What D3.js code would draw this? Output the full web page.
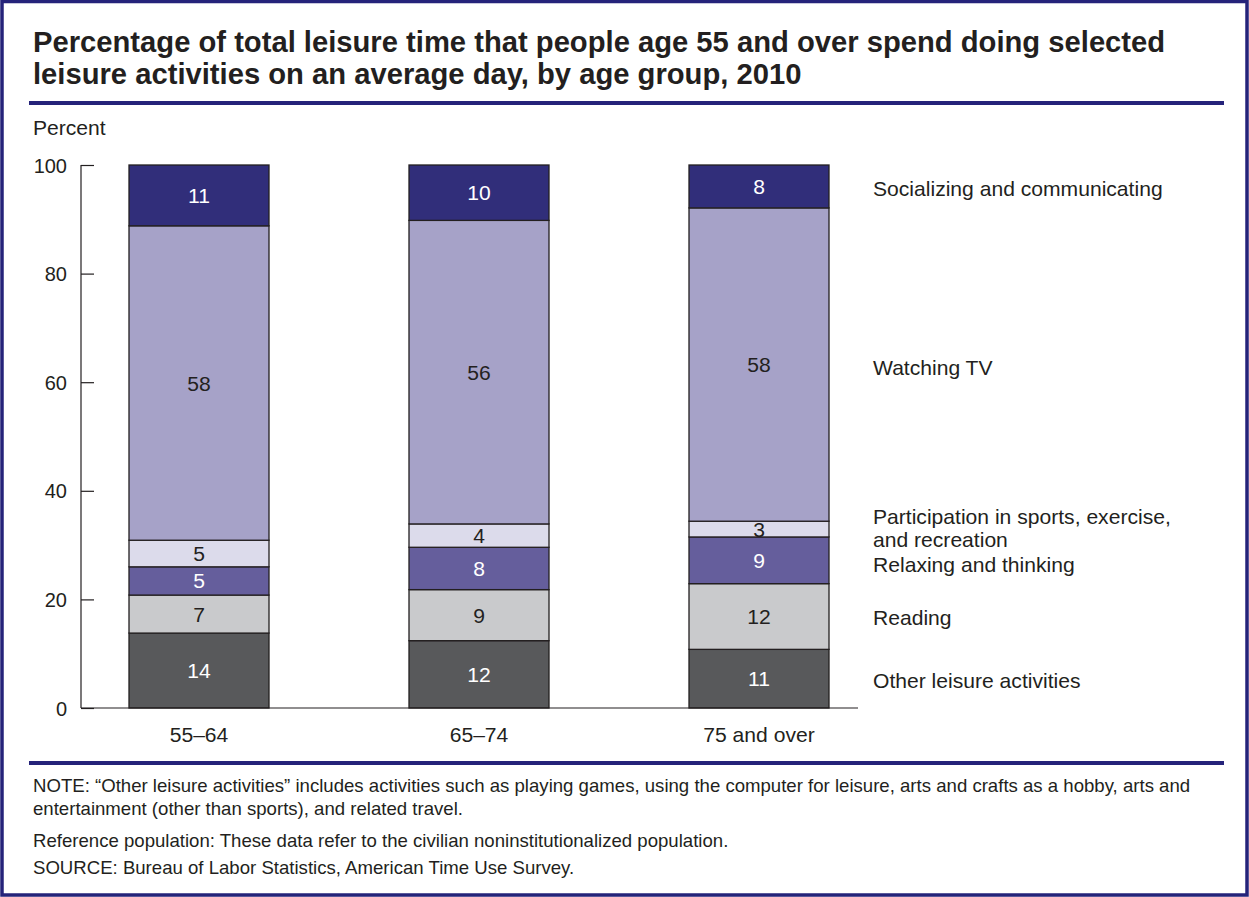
<!DOCTYPE html>
<html>
<head>
<meta charset="utf-8">
<script src="https://cdn.jsdelivr.net/npm/d3@7"></script>
<style>
  html, body { margin: 0; padding: 0; background: #fff; }
  svg { display: block; font-family: "Liberation Sans", Arial, sans-serif; }
</style>
</head>
<body>
<svg id="chart" width="1249" height="897"></svg>
<script>
// Age groups along the x axis
const ageGroups = ["55–64", "65–74", "75 and over"];

// Activities, stacked from the bottom of each bar upward
const activities = [
  "Other leisure activities",
  "Reading",
  "Relaxing and thinking",
  "Participation in sports, exercise, and recreation",
  "Watching TV",
  "Socializing and communicating"
];

// Share of leisure time (percent) for each activity, one entry per age group
const otherLeisure   = [13.8, 12.4, 10.8];
const reading        = [7.0,  9.4, 12.1];
const relaxing       = [5.2,  7.8,  8.6];
const sports         = [4.9,  4.3,  2.9];
const watchingTV     = [57.9, 55.9, 57.7];
const socializing    = [11.2, 10.2,  7.9];

const seriesValues = [otherLeisure, reading, relaxing, sports, watchingTV, socializing];

const yTicks = [0, 20, 40, 60, 80, 100];

// Fill, label colour and legend lines per activity
const fills      = ["#58595b", "#c9cacc", "#655e9c", "#dcdbeb", "#a6a2c8", "#312e7a"];
const labelInk   = ["#ffffff", "#231f20", "#ffffff", "#231f20", "#231f20", "#ffffff"];
const legendText = [
  ["Other leisure activities"],
  ["Reading"],
  ["Relaxing and thinking"],
  ["Participation in sports, exercise,", "and recreation"],
  ["Watching TV"],
  ["Socializing and communicating"]
];
// Legend baseline, expressed in percent on the value axis
const legendY = [3.7, 15.3, 25.0, 33.9, 61.3, 94.3];

const noteLines = [
  "NOTE: \u201cOther leisure activities\u201d includes activities such as playing games, using the computer for leisure, arts and crafts as a hobby, arts and",
  "entertainment (other than sports), and related travel."
];
const refLine = "Reference population: These data refer to the civilian noninstitutionalized population.";
const sourceLine = "SOURCE: Bureau of Labor Statistics, American Time Use Survey.";

const ink = "#231f20";
const navy = "#25237a";
const bodySize = 21.1;

const svg = d3.select("#chart");

// Outer frame
svg.append("rect")
  .attr("x", 2).attr("y", 1.5).attr("width", 1245).attr("height", 893.5)
  .attr("fill", "none").attr("stroke", navy).attr("stroke-width", 3.5);

// Title
const title = svg.append("text")
  .attr("x", 33).attr("fill", ink)
  .attr("font-size", 29.2).attr("font-weight", "bold");
title.append("tspan").attr("x", 33).attr("y", 52)
  .text("Percentage of total leisure time that people age 55 and over spend doing selected");
title.append("tspan").attr("x", 33).attr("y", 84)
  .text("leisure activities on an average day, by age group, 2010");

// Horizontal rules
svg.append("rect").attr("x", 29).attr("y", 101).attr("width", 1195).attr("height", 4).attr("fill", navy);
svg.append("rect").attr("x", 29).attr("y", 761).attr("width", 1195).attr("height", 4).attr("fill", navy);

// Unit label
svg.append("text").attr("x", 33).attr("y", 135).attr("font-size", bodySize).attr("fill", ink).text("Percent");

// Scales
const y = d3.scaleLinear().domain([0, 100]).range([708, 165]);
const x = d3.scaleBand().domain(ageGroups).range([59, 899]).paddingInner(0.5).paddingOuter(0.25);

// Stack
const rows = ageGroups.map((g, i) => {
  const r = { group: g };
  activities.forEach((a, k) => { r[a] = seriesValues[k][i]; });
  return r;
});
const stacked = d3.stack().keys(activities)(rows);

const bars = svg.append("g");
stacked.forEach((layer, k) => {
  const g = bars.append("g");
  g.selectAll("rect").data(layer).join("rect")
    .attr("x", d => x(d.data.group))
    .attr("width", x.bandwidth())
    .attr("y", d => y(d[1]))
    .attr("height", d => y(d[0]) - y(d[1]))
    .attr("fill", fills[k])
    .attr("stroke", ink)
    .attr("stroke-width", 1.3);
  g.selectAll("text").data(layer).join("text")
    .attr("x", d => x(d.data.group) + x.bandwidth() / 2)
    .attr("y", d => (y(d[0]) + y(d[1])) / 2 + 7.5)
    .attr("text-anchor", "middle")
    .attr("font-size", bodySize)
    .attr("fill", labelInk[k])
    .text(d => d3.format(".0f")(d[1] - d[0]));
});

// Y axis: ticks point inward toward the bars
const yAxis = svg.append("g").attr("transform", "translate(81,0)")
  .call(d3.axisRight(y).tickValues(yTicks).tickSize(13).tickFormat(""));
yAxis.select(".domain").remove();
yAxis.selectAll(".tick line").attr("stroke", ink).attr("stroke-width", 1.2);
svg.append("line").attr("x1", 81).attr("x2", 81).attr("y1", y(100)).attr("y2", y(0))
  .attr("stroke", ink).attr("stroke-width", 1.2);
svg.append("g").selectAll("text").data(yTicks).join("text")
  .attr("x", 67).attr("y", d => y(d) + 7.5)
  .attr("text-anchor", "end").attr("font-size", 20).attr("fill", ink)
  .text(d => d);

// Baseline
svg.append("line").attr("x1", 81).attr("x2", 858).attr("y1", y(0)).attr("y2", y(0))
  .attr("stroke", ink).attr("stroke-width", 1.2);

// Category labels
const xAxis = svg.append("g").attr("transform", `translate(0,${y(0)})`)
  .call(d3.axisBottom(x).tickSize(0).tickPadding(19));
xAxis.select(".domain").remove();
xAxis.selectAll("text").attr("font-size", bodySize).attr("fill", ink)
  .attr("font-family", "Liberation Sans, Arial, sans-serif");

// Legend labels on the right
const legend = svg.append("g");
legendText.forEach((lines, k) => {
  const t = legend.append("text").attr("font-size", bodySize).attr("fill", ink);
  lines.forEach((line, j) => {
    t.append("tspan").attr("x", 873).attr("y", y(legendY[k]) + j * 23).text(line);
  });
});

// Notes
const notes = svg.append("g").attr("font-size", 18.6).attr("fill", ink);
noteLines.forEach((line, j) => {
  notes.append("text").attr("x", 33).attr("y", 792 + j * 23).text(line);
});
notes.append("text").attr("x", 33).attr("y", 847).text(refLine);
notes.append("text").attr("x", 33).attr("y", 874).text(sourceLine);
</script>
</body>
</html>
